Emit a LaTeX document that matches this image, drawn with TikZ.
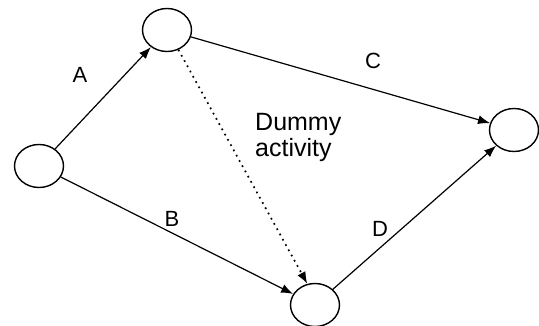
\documentclass[tikz,border=0pt]{standalone}
\usepackage{fontspec}
\setmainfont{Liberation Sans}
\usetikzlibrary{arrows.meta,shapes.geometric}
\begin{document}
\begin{tikzpicture}[x=1pt,y=-1pt,
  ev/.style={draw,line width=1.4pt,ellipse,minimum width=49pt,minimum height=43pt,inner sep=0pt},
  act/.style={line width=1.2pt,-{Latex[length=12pt,width=9pt]}},
  dum/.style={line width=1.7pt,dash pattern=on 1.7pt off 4.3pt,-{Latex[length=12pt,width=9pt]}},
  lab/.style={font=\fontsize{22}{24}\selectfont,inner sep=0pt}]
\useasboundingbox (0,0) rectangle (539,326);
\node[ev] (n1) at (39,166) {};
\node[ev] (n2) at (167,30) {};
\node[ev] (n3) at (514,130) {};
\node[ev] (n4) at (315,305) {};
\draw[act] (n1) -- (n2);
\draw[act] (n2) -- (n3);
\draw[act] (n1) -- (n4);
\draw[act] (n4) -- (n3);
\draw[dum] (n2.300) -- (n4.110);
\node[lab] (la) at (80,75) {A};
\node[lab] (lc) at (373,61) {C};
\node[lab] (lb) at (172,219) {B};
\node[lab] (ld) at (380,229) {D};
\node[lab,font=\fontsize{25}{26}\selectfont,align=left,anchor=north west] (ldum) at (255,113) {Dummy\\activity};
\end{tikzpicture}
\end{document}
